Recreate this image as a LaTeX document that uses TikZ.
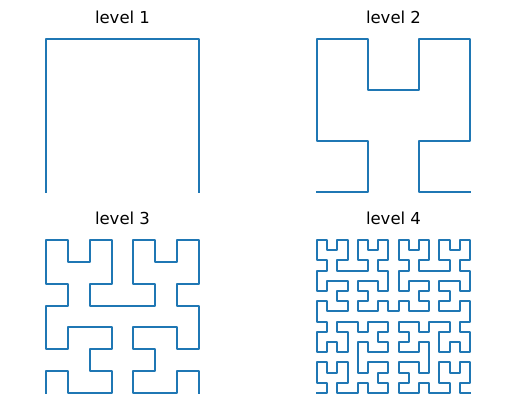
\documentclass[tikz,border=0pt]{standalone}
\usepackage{fontspec}
\setmainfont{DejaVu Sans}
\usetikzlibrary{lindenmayersystems}
\pgfdeclarelindenmayersystem{Hilbert curve}{
  \rule{L -> +RF-LFL-FR+}
  \rule{R -> -LF+RFR+FL-}}
\definecolor{mplblue}{HTML}{1F77B4}
\begin{document}
\begin{tikzpicture}[
  curve/.style={draw=mplblue, line width=2.08pt, line cap=rect, line join=round},
  ttl/.style={anchor=base, inner sep=0pt, font=\fontsize{16.5}{20}\selectfont}]
\useasboundingbox (0pt,0pt) rectangle (515pt,-411pt);
\node[ttl] (t1) at (122.5pt,-24pt) {level 1};
\node[ttl] (t2) at (393.5pt,-24pt) {level 2};
\node[ttl] (t3) at (122.5pt,-225pt) {level 3};
\node[ttl] (t4) at (393.5pt,-225pt) {level 4};
\begin{scope}[shift={(46pt,-192pt)}]
\draw[curve, lindenmayer system={Hilbert curve, axiom=L, order=1, step=153pt, angle=90}] lindenmayer system;
\end{scope}
\begin{scope}[shift={(317pt,-192pt)}]
\draw[curve, lindenmayer system={Hilbert curve, axiom=L, order=2, step=51pt, angle=90}] lindenmayer system;
\end{scope}
\begin{scope}[shift={(46pt,-393pt)}]
\draw[curve, lindenmayer system={Hilbert curve, axiom=L, order=3, step=21.857pt, angle=90}] lindenmayer system;
\end{scope}
\begin{scope}[shift={(317pt,-393pt)}]
\draw[curve, lindenmayer system={Hilbert curve, axiom=L, order=4, step=10.2pt, angle=90}] lindenmayer system;
\end{scope}
\end{tikzpicture}
\end{document}
